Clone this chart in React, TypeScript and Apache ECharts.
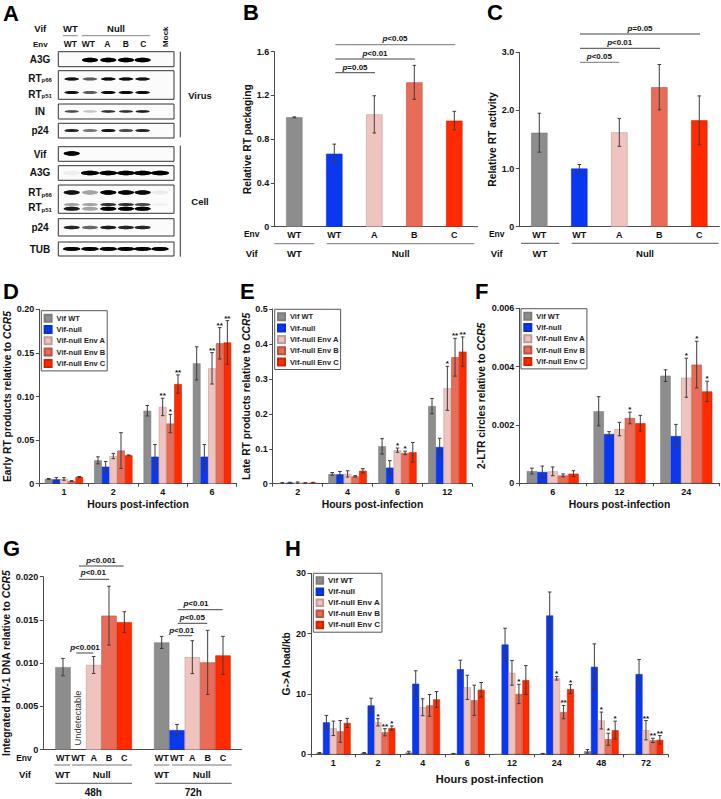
import React, { useEffect, useRef } from "react";
import * as echarts from "echarts";

const FONT = "Liberation Sans";
const COLORS = ["#8d8d8d", "#0a37f0", "#f0c4be", "#e86c58", "#ff2a00"];
const EDGES = ["#7c7c7c", "#0a30d0", "#c49a94", "#b85444", "#d02400"];
const SERIES_NAMES = ["Vif WT", "Vif-null", "Vif-null Env A", "Vif-null Env B", "Vif-null Env C"];

// Panel B
const bCats = ["WT", "WT", "A", "B", "C"];
const bValues = [1.0, 0.667, 1.027, 1.32, 0.97];
const bErrors = [0.004, 0.088, 0.17, 0.155, 0.085];
// Panel C
const cCats = ["WT", "WT", "A", "B", "C"];
const cValues = [1.617, 1.0, 1.623, 2.4, 1.83];
const cErrors = [0.335, 0.07, 0.24, 0.39, 0.42];
// Panel D
const dCats = ["1", "2", "4", "6"];
const dValues = [
  [0.0055, 0.0268, 0.0837, 0.138],
  [0.005, 0.0195, 0.031, 0.031],
  [0.0055, 0.0317, 0.088, 0.1323],
  [0.003, 0.038, 0.069, 0.161],
  [0.0078, 0.0325, 0.1143, 0.162],
];
const dErrors = [
  [0.0005, 0.004, 0.006, 0.019],
  [0.002, 0.006, 0.014, 0.014],
  [0.0015, 0.003, 0.01, 0.018],
  [0.0005, 0.0205, 0.0105, 0.018],
  [0.0005, 0.0005, 0.0105, 0.025],
];
const dStars = [
  ["", "", "", ""],
  ["", "", "", ""],
  ["", "", "**", "**"],
  ["", "", "*", "**"],
  ["", "", "**", "**"],
];
// Panel E
const eCats = ["2", "4", "6", "12"];
const eValues = [
  [0.002, 0.028, 0.107, 0.222],
  [0.003, 0.027, 0.046, 0.105],
  [0.003, 0.028, 0.096, 0.273],
  [0.002, 0.021, 0.088, 0.362],
  [0.003, 0.037, 0.09, 0.378],
];
const eErrors = [
  [0.001, 0.004, 0.022, 0.022],
  [0.001, 0.008, 0.02, 0.025],
  [0.002, 0.009, 0.006, 0.063],
  [0.001, 0.002, 0.005, 0.054],
  [0.001, 0.006, 0.028, 0.042],
];
const eStars = [
  ["", "", "", ""],
  ["", "", "", ""],
  ["", "", "*", "*"],
  ["", "", "*", "**"],
  ["", "", "", "**"],
];
// Panel F
const fCats = ["6", "12", "24"];
const fValues = [
  [0.00042, 0.00247, 0.00369],
  [0.00039, 0.00169, 0.00162],
  [0.00041, 0.00186, 0.00362],
  [0.00027, 0.00224, 0.00407],
  [0.00033, 0.00206, 0.00315],
];
const fErrors = [
  [0.0001, 0.0005, 0.0002],
  [0.0002, 0.00008, 0.0004],
  [0.00015, 0.00023, 0.00067],
  [0.00005, 0.0002, 0.0008],
  [0.0001, 0.00027, 0.00035],
];
const fStars = [
  ["", "", ""],
  ["", "", ""],
  ["", "", "*"],
  ["", "*", "*"],
  ["", "", "*"],
];
// Panel G
const gCats = ["WT", "WT", "A", "B", "C"];
const g48Values = [0.00955, null, 0.0098, 0.0155, 0.01475];
const g48Errors = [0.001, null, 0.00098, 0.0034, 0.0012];
const g72Values = [0.0124, 0.00227, 0.0107, 0.0101, 0.0109];
const g72Errors = [0.0007, 0.00065, 0.0019, 0.0037, 0.0022];
// Panel H
const hCats = ["1", "2", "4", "6", "12", "24", "48", "72"];
const hValues = [
  [0.2, 0.2, 0.3, 0.1, 0, 0.1, 0.5, 0],
  [5.3, 8.1, 11.7, 14.1, 18.2, 23, 14.5, 13.3],
  [4.3, 5.3, 7.8, 11.1, 13.5, 12.6, 5.6, 4.0],
  [3.8, 3.65, 8.1, 8.95, 10, 7, 2.5, 2.3],
  [5.2, 4.35, 9.1, 10.7, 12.3, 10.8, 4.0, 2.4],
];
const hErrors = [
  [0.1, 0.1, 0.2, 0.05, 0, 0.05, 0.3, 0],
  [1.15, 1.2, 2.15, 1.5, 2.7, 3.9, 3.8, 2.4],
  [1.2, 0.6, 1.4, 2, 2.05, 0.3, 1.4, 1.6],
  [1.8, 0.6, 1.8, 2.5, 1.6, 1.1, 1, 0.35],
  [0.75, 0.35, 1.3, 1.2, 2.4, 0.75, 1.5, 0.7],
];
const hStars = [
  ["", "", "", "", "", "", "", ""],
  ["", "", "", "", "", "", "", ""],
  ["", "*", "", "", "", "*", "*", "**"],
  ["", "**", "", "", "*", "**", "*", "**"],
  ["", "*", "", "", "", "*", "*", "**"],
];
// Panel A blot intensities by lane: WT, WT, A, B, C, Mock
const laneX = [71.7, 90, 108.3, 126, 142.6, 160];
const blotRows: [number, number, number, number[]][] = [
  [60, 2.3, 8, [0, 1, 1, 1, 1, 0]],
  [79, 1.5, 7.3, [0.85, 0.55, 0.9, 0.9, 0.85, 0]],
  [92.5, 1.5, 7.3, [0.85, 0.55, 0.9, 0.9, 0.9, 0]],
  [111.5, 1.2, 7, [0.6, 0.2, 0.7, 0.7, 0.8, 0]],
  [130.5, 1.6, 7.3, [0.75, 0.45, 0.85, 0.6, 0.75, 0]],
  [153.5, 2.2, 8, [1, 0, 0, 0, 0, 0]],
  [173, 2.3, 9, [0.05, 1, 1, 1, 1, 1]],
  [192.5, 2.2, 8, [0.85, 0.3, 1, 0.95, 0.9, 0.06]],
  [204.5, 1.6, 8, [0.3, 0.3, 0.7, 0.7, 0.6, 0.04]],
  [208.8, 2, 8, [0.8, 0.3, 1, 1, 1, 0]],
  [227.5, 1.7, 8, [0.75, 0.5, 0.8, 0.75, 0.75, 0]],
  [249, 1.9, 8.6, [1, 1, 1, 1, 1, 1]],
];
const blotFrames = [
  [51.7, 66.7], [70.7, 99.3], [104, 119], [123.3, 138],
  [146.7, 161.3], [165.7, 180.3], [185, 213.3], [218.7, 236], [242, 256],
];
const blotLabels: [string, number][] = [
  ["A3G", 59], ["{a|RT}{s|p66}", 78], ["{a|RT}{s|p51}", 94], ["IN", 111.5], ["p24", 130.5],
  ["Vif", 154.5], ["A3G", 172.7], ["{a|RT}{s|p66}", 192.5], ["{a|RT}{s|p51}", 207.5], ["p24", 227.5], ["TUB", 249],
];

type TextOpts = { size?: number; weight?: string; fill?: string; align?: string; rotation?: number };
const pRich = (size: number) => ({
  i: { fontFamily: FONT, fontSize: size, fontWeight: "bold", fontStyle: "italic", fill: "#111", color: "#111" },
  b: { fontFamily: FONT, fontSize: size, fontWeight: "bold", fill: "#111", color: "#111" },
  a: { fontFamily: FONT, fontSize: 10, fontWeight: "bold", fill: "#111", color: "#111" },
  s: { fontFamily: FONT, fontSize: 6, fontWeight: "bold", fill: "#111", color: "#111", padding: [4, 0, 0, 0] },
});
function txt(x: number, y: number, text: string, o: TextOpts = {}) {
  const size = o.size ?? 9.5;
  const align = o.align ?? "center";
  return {
    type: "text",
    x,
    y,
    rotation: o.rotation ?? 0,
    silent: true,
    style: {
      text,
      x: 0,
      y: 0,
      align,
      textAlign: align,
      verticalAlign: "middle",
      textVerticalAlign: "middle",
      fontFamily: FONT,
      fontSize: size,
      fontWeight: o.weight ?? "bold",
      fill: o.fill ?? "#111",
      rich: pRich(size),
    },
  };
}
function seg(x1: number, y1: number, x2: number, y2: number, stroke = "#555", lineWidth = 1) {
  return { type: "line", silent: true, shape: { x1, y1, x2, y2 }, style: { stroke, lineWidth } };
}
function pLabel(cx: number, cy: number, rest: string, x1: number, x2: number, ly: number, stroke = "#444") {
  return [txt(cx, cy, `{i|p}{b|${rest}}`, { size: 8 }), seg(x1, ly, x2, ly, stroke)];
}

function errSeries(grid: number, cats: string[], vals: (number | null)[], errs: (number | null)[], stars: string[] | null, offset: number, starSize = 8) {
  return {
    type: "custom",
    name: "err",
    xAxisIndex: grid,
    yAxisIndex: grid,
    z: 5,
    silent: true,
    clip: false,
    encode: { x: 0, y: 1 },
    data: cats.map((_, i) => [i, vals[i], errs[i]]),
    renderItem: (params: any, api: any) => {
      const v = api.value(1);
      const e = api.value(2);
      if (isNaN(v) || isNaN(e) || e <= 0) return null;
      const i = api.value(0);
      const top = api.coord([i, v + e]);
      const bot = api.coord([i, v - e]);
      const x = top[0] + offset;
      const stroke = "#3c3c3c";
      const style = { stroke, lineWidth: 1, fill: null };
      const children: any[] = [
        { type: "line", shape: { x1: x, y1: top[1], x2: x, y2: bot[1] }, style },
        { type: "line", shape: { x1: x - 1.8, y1: top[1], x2: x + 1.8, y2: top[1] }, style },
        { type: "line", shape: { x1: x - 1.8, y1: bot[1], x2: x + 1.8, y2: bot[1] }, style },
      ];
      const s = stars ? stars[params.dataIndex] : "";
      if (s) {
        children.push({
          type: "text",
          style: {
            text: s, x, y: top[1] + 1.5, align: "center", verticalAlign: "bottom",
            fontFamily: FONT, fontWeight: "bold", fontSize: starSize, fill: "#111",
          },
        });
      }
      return { type: "group", children };
    },
  };
}
function groupedSeries(grid: number, cats: string[], values: number[][], errors: number[][], stars: string[][], barW: number, starSize = 8) {
  const out: any[] = [];
  values.forEach((v, k) => {
    out.push({
      type: "bar",
      name: SERIES_NAMES[k],
      xAxisIndex: grid,
      yAxisIndex: grid,
      barWidth: barW,
      barGap: "0%",
      data: v,
      itemStyle: { color: COLORS[k], borderColor: EDGES[k], borderWidth: 0.6 },
    });
  });
  values.forEach((v, k) => {
    out.push(errSeries(grid, cats, v, errors[k], stars[k], (k - 2) * barW, starSize));
  });
  return out;
}
function singleSeries(grid: number, cats: string[], vals: (number | null)[], errs: (number | null)[], barW: number) {
  return [
    {
      type: "bar",
      name: "bars" + grid,
      xAxisIndex: grid,
      yAxisIndex: grid,
      barWidth: barW,
      data: vals.map((v, k) => ({ value: v, itemStyle: { color: COLORS[k], borderColor: EDGES[k], borderWidth: 0.6 } })),
    },
    errSeries(grid, cats, vals, errs, null, 0),
  ];
}
const axisLine = { show: true, lineStyle: { color: "#4a4a4a", width: 1 } };
function xAxisOf(grid: number, cats: string[], name: string, opts: any = {}) {
  return {
    type: "category",
    gridIndex: grid,
    data: cats,
    name,
    nameLocation: "middle",
    nameGap: opts.nameGap ?? 17,
    nameTextStyle: { fontFamily: FONT, fontWeight: "bold", fontSize: opts.nameSize ?? 10.4, color: "#111" },
    axisLine: opts.noLine ? { show: false } : axisLine,
    axisTick: opts.ticks ? { show: true, length: 3, lineStyle: { color: "#4a4a4a" } } : { show: false },
    axisLabel: { interval: 0, margin: opts.margin ?? 4, fontFamily: FONT, fontWeight: "bold", fontSize: 9, color: "#111" },
  };
}
function yAxisOf(grid: number, max: number, interval: number, digits: number, name: string, nameGap: number, hidden = false) {
  return {
    type: "value",
    gridIndex: grid,
    min: 0,
    max,
    interval,
    show: !hidden,
    name,
    nameLocation: "middle",
    nameGap,
    nameTextStyle: {
      fontFamily: FONT, fontWeight: "bold", fontSize: 10.3, color: "#111",
      rich: {
        b: { fontFamily: FONT, fontWeight: "bold", fontSize: 10.3, color: "#111" },
        i: { fontFamily: FONT, fontWeight: "bold", fontStyle: "italic", fontSize: 10.3, color: "#111" },
      },
    },
    splitLine: { show: false },
    axisLine,
    axisTick: { show: true, length: 3.5, lineStyle: { color: "#4a4a4a" } },
    axisLabel: {
      margin: 5,
      fontFamily: FONT,
      fontWeight: "bold",
      fontSize: 9,
      color: "#111",
      formatter: (v: number) => (v === 0 ? "0" : v.toFixed(digits)),
    },
  };
}
function legendOf(left: number, top: number, fontSize: number, swatch: number, gap: number) {
  return {
    left,
    top,
    orient: "vertical",
    data: SERIES_NAMES.map((name) => ({ name, icon: "rect" })),
    selectedMode: false,
    itemWidth: swatch,
    itemHeight: swatch,
    itemGap: gap,
    padding: [3, 2, 3, 2.3],
    backgroundColor: "#fff",
    borderColor: "#555",
    borderWidth: 1,
    textStyle: { fontFamily: FONT, fontWeight: "bold", fontSize, color: "#222" },
  };
}

function buildOption() {
  const grids = [
    { left: 274.3, top: 51.7, width: 200, height: 175 }, // B
    { left: 519.3, top: 52.3, width: 200, height: 174.4 }, // C
    { left: 39.3, top: 309.3, width: 197.4, height: 174.4 }, // D
    { left: 272.7, top: 309, width: 199.6, height: 174.7 }, // E
    { left: 519.3, top: 308.3, width: 200.4, height: 175 }, // F
    { left: 55.33, top: 576.7, width: 76.67, height: 173 }, // G 48h
    { left: 154, top: 576.7, width: 76.67, height: 173 }, // G 72h
    { left: 311, top: 573.3, width: 357.3, height: 181 }, // H
    { left: 43.33, top: 576.7, width: 198.4, height: 173 }, // G frame
  ];
  const xLabel = "Hours post-infection";
  const xAxis: any[] = [
    xAxisOf(0, bCats, ""),
    xAxisOf(1, cCats, ""),
    xAxisOf(2, dCats, xLabel, { ticks: true, nameGap: 16 }),
    xAxisOf(3, eCats, xLabel, { ticks: true, nameGap: 16 }),
    xAxisOf(4, fCats, xLabel, { ticks: true, nameGap: 16 }),
    xAxisOf(5, gCats, "", { noLine: true }),
    xAxisOf(6, gCats, "", { noLine: true }),
    xAxisOf(7, hCats, xLabel, { ticks: true, nameGap: 19, nameSize: 11 }),
    { type: "value", gridIndex: 8, min: 0, max: 1, axisLine, axisTick: { show: false }, axisLabel: { show: false }, splitLine: { show: false } },
  ];
  const yAxis: any[] = [
    yAxisOf(0, 1.6, 0.4, 1, "Relative RT packaging", 18),
    yAxisOf(1, 3, 1, 1, "Relative RT activity", 18),
    yAxisOf(2, 0.2, 0.05, 2, "{b|Early RT products relative to }{i|CCR5}", 27),
    yAxisOf(3, 0.5, 0.1, 1, "{b|Late RT products relative to }{i|CCR5}", 21),
    yAxisOf(4, 0.006, 0.002, 3, "{b|2-LTR circles relative to }{i|CCR5}", 33),
    yAxisOf(5, 0.02, 0.005, 3, "", 0, true),
    yAxisOf(6, 0.02, 0.005, 3, "", 0, true),
    yAxisOf(7, 30, 10, 0, "G->A load/kb", 20),
    yAxisOf(8, 0.02, 0.005, 3, "{b|Integrated HIV-1 DNA relative to }{i|CCR5}", 28),
  ];
  const series: any[] = [
    ...singleSeries(0, bCats, bValues, bErrors, 16.4),
    ...singleSeries(1, cCats, cValues, cErrors, 16.4),
    ...groupedSeries(2, dCats, dValues, dErrors, dStars, 7.67),
    ...groupedSeries(3, eCats, eValues, eErrors, eStars, 7.67),
    ...groupedSeries(4, fCats, fValues, fErrors, fStars, 10.4),
    ...singleSeries(5, gCats, g48Values, g48Errors, 15.33),
    ...singleSeries(6, gCats, g72Values, g72Errors, 15.33),
    ...groupedSeries(7, hCats, hValues, hErrors, hStars, 6.93, 8),
  ];
  const legend = [
    legendOf(41.3, 310.7, 7.5, 7, 2.3),
    legendOf(274.7, 309.3, 7.5, 7, 2.3),
    legendOf(521, 308.7, 7.5, 7, 2.3),
    legendOf(313.3, 573.3, 8, 6.5, 2.6),
  ];

  const g: any[] = [];
  // Panel letters
  ([["A", 3, 13], ["B", 243, 12], ["C", 487, 12.5], ["D", 3, 291.5], ["E", 240, 291.5], ["F", 475, 291], ["G", 3, 548.5], ["H", 285, 548.5]] as [string, number, number][]).forEach(
    ([t, x, y]) => g.push(txt(x, y, t, { size: 22, align: "left", fill: "#000" }))
  );
  // Panel A
  blotFrames.forEach(([a, b]) =>
    g.push({ type: "rect", silent: true, shape: { x: 58.3, y: a, width: 115.7, height: b - a }, style: { fill: "#fbfbfb", stroke: "#333", lineWidth: 1 } })
  );
  blotRows.forEach(([cy, ry, rx, lanes]) =>
    lanes.forEach((op, k) => {
      if (op <= 0) return;
      g.push({
        type: "ellipse",
        silent: true,
        shape: { cx: laneX[k], cy, rx, ry },
        style: { fill: `rgba(0,0,0,${op})`, shadowBlur: 1.5, shadowColor: `rgba(0,0,0,${op * 0.7})` },
      });
    })
  );
  g.push(txt(40.3, 28, "Vif"), txt(70.3, 28, "WT"), txt(116, 28, "Null"));
  g.push(seg(62.7, 35.7, 77.7, 35.7, "#888"), seg(81.7, 35.7, 150, 35.7, "#888"));
  g.push(txt(40.3, 44, "Env", { size: 8 }));
  ["WT", "WT", "A", "B", "C"].forEach((t, i) => g.push(txt([70.3, 88.3, 107.3, 125.7, 143.3][i], 44, t, { size: 8.5 })));
  g.push(txt(165, 36.7, "Mock", { size: 8, rotation: Math.PI / 2 }));
  blotLabels.forEach(([t, y]) => g.push(txt(40, y, t, { size: 10 })));
  g.push(seg(180.3, 51.7, 180.3, 137.3, "#333"), seg(180.3, 145.7, 180.3, 256.7, "#333"));
  g.push(txt(200, 95, "Virus"), txt(200, 201.7, "Cell"));
  // Panel B
  g.push(seg(474.3, 226.7, 478, 226.7, "#4a4a4a"));
  g.push(txt(251.7, 234.3, "Env", { size: 8.5 }), txt(251.7, 253.7, "Vif"), txt(294.3, 253.7, "WT"), txt(400.7, 253.7, "Null"));
  g.push(seg(274.3, 243.7, 314.3, 243.7, "#777"), seg(326.7, 243.7, 474.3, 243.7, "#777"));
  g.push(...pLabel(355, 67.3, "=0.05", 335.3, 375, 72.7), ...pLabel(375, 53.3, "<0.01", 335.3, 415, 59), ...pLabel(395, 38.3, "<0.05", 335.3, 455.3, 44.7, "#777"));
  // Panel C
  g.push(txt(496.7, 234.3, "Env", { size: 8.5 }), txt(496.7, 253.7, "Vif"), txt(540, 253.7, "WT"), txt(645, 253.7, "Null"));
  g.push(seg(521, 243.3, 559.3, 243.3, "#555"), seg(571.7, 243.3, 718.7, 243.3, "#555"));
  g.push(...pLabel(599.3, 56.7, "<0.05", 580, 619.3, 62.3, "#777"), ...pLabel(619.7, 42, "<0.01", 580, 660, 48.3), ...pLabel(640, 28.3, "=0.05", 580, 700, 34));
  // Panel G
  g.push(txt(24, 757.7, "Env", { size: 8.5 }), txt(25, 774, "Vif"));
  g.push(seg(54.3, 765, 70, 765, "#777"), seg(72, 765, 132, 765, "#777"), seg(154, 765, 169.3, 765, "#777"), seg(172, 765, 231.7, 765, "#777"));
  g.push(txt(62.7, 774, "WT"), txt(101.7, 774, "Null"), txt(161.7, 774, "WT"), txt(201.7, 774, "Null"));
  g.push(seg(55.3, 783.3, 132, 783.3, "#555"), seg(155.3, 783.3, 231.7, 783.3, "#555"));
  g.push(txt(93.3, 792.5, "48h", { size: 10 }), txt(193.3, 792.5, "72h", { size: 10 }));
  g.push(txt(78.3, 718, "Undetectable", { size: 9.3, weight: "normal", fill: "#333", rotation: Math.PI / 2 }));
  g.push(
    ...pLabel(85, 647.7, "<0.001", 76.3, 93.3, 653),
    ...pLabel(93.3, 572.7, "<0.01", 79, 109, 579.3),
    ...pLabel(101, 560.3, "<0.001", 79, 123.7, 566),
    ...pLabel(181.7, 630, "<0.01", 177.7, 192.3, 635.7),
    ...pLabel(192.3, 617, "<0.05", 177.7, 207.3, 623.3),
    ...pLabel(196, 603.7, "<0.01", 177.7, 222.7, 609.7)
  );

  return {
    animation: false,
    backgroundColor: "#fff",
    grid: grids,
    xAxis,
    yAxis,
    series,
    legend,
    graphic: { elements: g },
  };
}

export default function App() {
  const ref = useRef<HTMLDivElement | null>(null);
  useEffect(() => {
    document.body.style.margin = "0";
    const chart = echarts.init(ref.current as HTMLDivElement, undefined, { renderer: "svg" });
    chart.setOption(buildOption() as any);
    return () => chart.dispose();
  }, []);
  return <div ref={ref} style={{ width: 721, height: 799 }} />;
}
